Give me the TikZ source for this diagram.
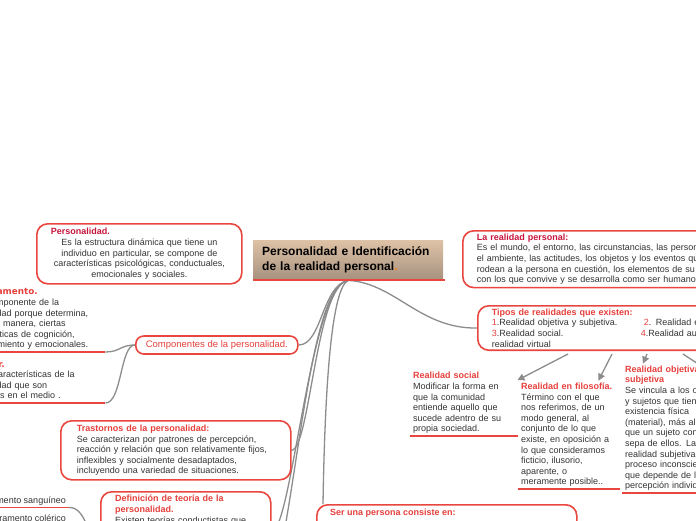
\documentclass[tikz,border=0pt]{standalone}
\usepackage{fontspec}
\setmainfont{Liberation Sans}
\newfontfamily\widefont{DejaVu Sans}
\usetikzlibrary{arrows.meta,calc}

\definecolor{boxred}{HTML}{E8463E}
\definecolor{titlered}{HTML}{E5403C}
\definecolor{deepred}{HTML}{C8143C}
\definecolor{bodygray}{HTML}{333333}
\definecolor{branchgray}{HTML}{8C8C8C}
\definecolor{headtop}{HTML}{DEC2A6}
\definecolor{headbottom}{HTML}{A6917F}

\pgfdeclarelayer{background}
\pgfsetlayers{background,main}

\newcommand{\nodetitle}[1]{{\bfseries\color{titlered}#1}}
\newcommand{\deeptitle}[1]{{\bfseries\color{deepred}#1}}
\newcommand{\widetitle}[1]{{\widefont\fontsize{8.8}{10.6}\selectfont\bfseries\color{titlered}#1}}
\newcommand{\itemnum}[1]{{\color{titlered}#1}}

\tikzset{
  bodytext/.style={font=\fontsize{9}{10.6}\selectfont, text=bodygray},
  topicbox/.style={bodytext, draw=boxred, line width=1.6pt, rounded corners=11pt,
    fill=white, align=left, inner xsep=14pt, inner ysep=3pt},
  headbox/.style={top color=headtop, bottom color=headbottom, align=left,
    font=\fontsize{12}{15}\bfseries\selectfont, text=black, inner xsep=9pt},
  note/.style={bodytext, align=left, inner xsep=3pt, inner ysep=2pt},
  redline/.style={draw=boxred, line width=1.6pt},
  branch/.style={draw=branchgray, line width=1.3pt},
  pointer/.style={branch, -{Triangle[length=7pt,width=7pt]}}
}

\begin{document}
\begin{tikzpicture}[x=1pt,y=-1pt]
\useasboundingbox (0,0) rectangle (696,520);
\clip (0,0) rectangle (696,520);

% central topic
\node[headbox, anchor=north west, minimum width=190pt, minimum height=40pt, text width=172pt] (hdr) at (253,240)
  {Personalidad e Identificación\\de la realidad personal{\color{orange}.}};
\draw[redline, line width=2pt] (hdr.south west) -- ([xshift=2pt]hdr.south east);

% left side
\node[topicbox, anchor=north west, text width=177pt, minimum height=60pt, align=center] (pers) at (36,223)
  {\makebox[177pt][l]{\deeptitle{Personalidad.}}\\Es la estructura dinámica que tiene un\\individuo en particular, se compone de\\características psicológicas, conductuales,\\emocionales y sociales.};

\node[topicbox, anchor=west, inner xsep=10pt, inner ysep=0pt, minimum height=18pt, rounded corners=8pt,
  text=titlered, font=\fontsize{9.5}{11}\selectfont] (comp) at (135,345)
  {Componentes de la personalidad.};

\node[note, text width=140pt, anchor=south west] (temp) at (-43,352)
  {\widetitle{Temperamento.}\\Es un componente de la\\personalidad porque determina,\\de alguna manera, ciertas\\características de cognición,\\comportamiento y emocionales.};
\draw[redline] (temp.south west) -- ([xshift=2pt]temp.south east);

\node[note, text width=140pt, anchor=south west] (car) at (-43,403)
  {\widetitle{Carácter.}\\Son las características de la\\personalidad que son\\aprendidas en el medio .};
\draw[redline] (car.south west) -- ([xshift=2pt]car.south east);

\node[topicbox, anchor=north west, text width=198pt, inner xsep=16pt, minimum height=59pt] (trast) at (60,420)
  {\nodetitle{Trastornos de la personalidad:}\\Se caracterizan por patrones de percepción,\\reacción y relación que son relativamente fijos,\\inflexibles y socialmente desadaptados,\\incluyendo una variedad de situaciones.};

\node[topicbox, anchor=north west, minimum width=170pt, minimum height=80pt] (def) at (100,491) {};
\node[note, anchor=north west, text width=145pt] (deftext) at (112,493)
  {\nodetitle{Definición de teoría de la}\\\nodetitle{personalidad.}\\Existen teorías conductistas que};

\node[note, anchor=south east] (sang) at (69,507.5) {Temperamento sanguíneo};
\draw[redline] (sang.south west) -- (sang.south east);
\node[note, anchor=south east] (col) at (69,526) {Temperamento colérico};
\draw[redline] (col.south west) -- (col.south east);
\coordinate (temptypes) at (100,560);

\node[topicbox, anchor=north west, minimum width=260pt, minimum height=60pt] (ser) at (316,504) {};
\node[note, anchor=north west] (sertext) at (327,507) {\nodetitle{Ser una persona consiste en:}};

% right side
\node[topicbox, anchor=north west, text width=240pt] (lareal) at (462,230)
  {\deeptitle{La realidad personal:}\\Es el mundo, el entorno, las circunstancias, las personas,\\el ambiente, las actitudes, los objetos y los eventos que\\rodean a la persona en cuestión, los elementos de su vida\\con los que convive y se desarrolla como ser humano.};

\node[topicbox, anchor=north west, text width=300pt] (tipos) at (477,305)
  {\nodetitle{Tipos de realidades que existen:}\\\makebox[152pt][l]{\itemnum{1}.Realidad objetiva y subjetiva.}\itemnum{2}. Realidad en filosofía.\\\makebox[149pt][l]{\itemnum{3}.Realidad social.}\itemnum{4}.Realidad aumentada y\\realidad virtual};

\node[note, text width=102pt, anchor=south west] (soc) at (410,436)
  {\nodetitle{Realidad social}\\Modificar la forma en\\que la comunidad\\entiende aquello que\\sucede adentro de su\\propia sociedad.};
\draw[redline] (soc.south west) -- (soc.south east);

\node[note, text width=96pt, anchor=south west] (fil) at (518,489)
  {\nodetitle{Realidad en filosofía.}\\Término con el que\\nos referimos, de un\\modo general, al\\conjunto de lo que\\existe, en oposición a\\lo que consideramos\\ficticio, ilusorio,\\aparente, o\\meramente posible..};
\draw[redline] (fil.south west) -- (fil.south east);

\node[note, text width=100pt, anchor=south west] (obj) at (622,493)
  {\nodetitle{Realidad objetiva y}\\\nodetitle{subjetiva}\\Se vincula a los objetos\\y sujetos que tienen\\existencia física\\(material), más allá de\\que un sujeto conozca o\\sepa de ellos. La\\realidad subjetiva es un\\proceso inconsciente\\que depende de la\\percepción individual.};
\draw[redline] (obj.south west) -- (obj.south east);
\coordinate (aument) at (730,385);

\draw[pointer] ($(tipos.south west)+(91,3)$) -- ($(soc.north east)+(-1,10)$);
\draw[pointer] ($(tipos.south west)+(135,3)$) -- ($(fil.north east)+(-22,0)$);
\draw[pointer] ($(tipos.south west)+(170,3)$) -- ($(obj.north west)+(21,0)$);
\draw[pointer] ($(tipos.south west)+(206,3)$) -- (aument);

% branches
\begin{pgfonlayer}{background}
\draw[branch] (hdr.south) .. controls (322,285) and (322,345) .. (comp.east);
\draw[branch] (hdr.south) .. controls (316,285) and (310,449) .. (trast.east);
\draw[branch] (hdr.south) .. controls (310,285) and (292,531) .. (def.east);
\draw[branch] (hdr.south) .. controls (304,285) and (295,560) .. (260,620);
\draw[branch] (hdr.south) .. controls (332,288) and (325,380) .. ($(ser.north west)+(7,0)$);
\draw[branch] (hdr.south) .. controls (395,283) and (420,329) .. (tipos.west);
\draw[branch] (comp.west) .. controls (120,345) and (120,352) .. ([xshift=2pt]temp.south east);
\draw[branch] (comp.west) .. controls (120,345) and (122,403) .. ([xshift=2pt]car.south east);
\draw[branch] (sang.south east) .. controls (84,507) and (88,530) .. (temptypes);
\draw[branch] (col.south east) .. controls (84,526) and (88,540) .. (temptypes);
\end{pgfonlayer}
\end{tikzpicture}
\end{document}
